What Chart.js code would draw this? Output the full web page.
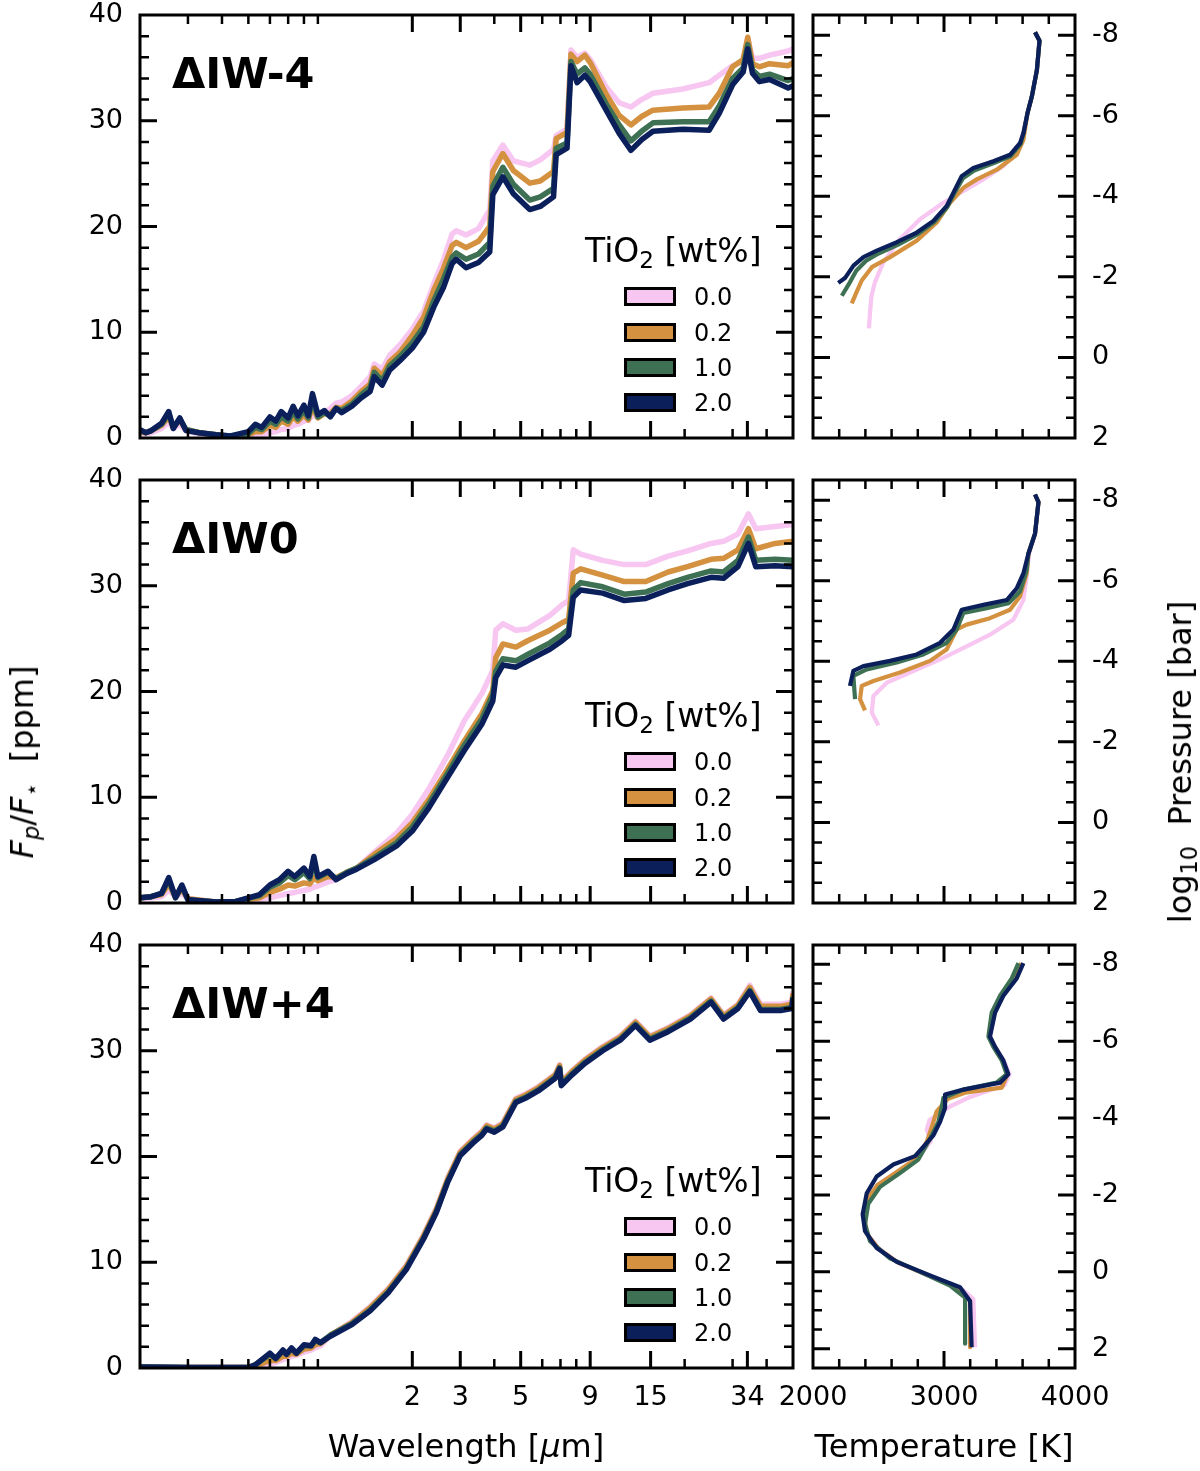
<!DOCTYPE html>
<html>
<head>
<meta charset="utf-8">
<script src="https://cdn.jsdelivr.net/npm/chart.js@4.4.1/dist/chart.umd.min.js"></script>
<style>
  body { margin: 0; background: #fff; }
  #fig { position: relative; width: 1200px; height: 1471px; overflow: hidden; font-family: "DejaVu Sans", sans-serif; color: #000; }
  #fig canvas { position: absolute; }
  .txt { position: absolute; white-space: nowrap; line-height: 1; }
  .panel { font-weight: bold; font-size: 43px; }
  .legtitle { font-size: 33px; }
  .legtitle sub, .axtitle sub { font-size: 70%; vertical-align: -0.25em; line-height: 0; }
  .legbox { position: absolute; width: 46px; height: 13px; border: 3px solid #000; }
  .leglab { font-size: 24px; }
  .axtitle { font-size: 32px; }
  .center { transform: translateX(-50%); }
  .rot { transform: translate(-50%, -50%) rotate(-90deg); }
</style>
</head>
<body>
<div id="fig">
  <canvas id="spec0" width="800" height="503" style="left:0;top:-25px"></canvas>
  <canvas id="spec1" width="800" height="503" style="left:0;top:440px"></canvas>
  <canvas id="spec2" width="800" height="553" style="left:0;top:905px"></canvas>
  <canvas id="tp0" width="460" height="503" style="left:740px;top:-25px"></canvas>
  <canvas id="tp1" width="460" height="503" style="left:740px;top:440px"></canvas>
  <canvas id="tp2" width="460" height="553" style="left:740px;top:905px"></canvas>

  <div class="txt axtitle center" style="left:466px;top:1430px">Wavelength [<i>μ</i>m]</div>
  <div class="txt axtitle center" style="left:944px;top:1430px">Temperature [K]</div>
  <div class="txt axtitle rot" style="left:22px;top:762px"><i>F</i><sub><i>p</i></sub>/<i>F</i><sub>⋆</sub>&nbsp;&nbsp;[ppm]</div>
  <div class="txt axtitle rot" style="left:1180px;top:762px">log<sub>10</sub>&nbsp;&nbsp;Pressure [bar]</div>
</div>
<script>
// ---------------------------------------------------------------- data
var panelNames = ['ΔIW-4', 'ΔIW0', 'ΔIW+4'];
var legendLabels = ['0.0', '0.2', '1.0', '2.0'];   // TiO2 [wt%]
var seriesColors = ['#f7c6f1', '#d4913f', '#3e7154', '#0b1f5b'];

// tick labels / tick marks
var specMajorTicks = [2, 3, 5, 9, 15, 34];
var specMinorTicks = [0.3, 0.4, 0.5, 0.6, 0.7, 0.8, 0.9, 4, 6, 7, 8, 20, 30, 40];
var fluxMajorTicks = [0, 10, 20, 30, 40];
var fluxMinorTicks = [2, 4, 6, 8, 12, 14, 16, 18, 22, 24, 26, 28, 32, 34, 36, 38];
var tempMajorTicks = [2000, 3000, 4000];
var tempMinorTicks = [2200, 2400, 2600, 2800, 3200, 3400, 3600, 3800];
var presMajorTicks = [-8, -6, -4, -2, 0, 2];
var presMinorTicks = [-7.5, -7, -6.5, -5.5, -5, -4.5, -3.5, -3, -2.5, -1.5, -1, -0.5, 0.5, 1, 1.5];

// --- ΔIW-4 emission spectra (wavelength um, Fp/F* ppm)
var wlIW4m = [0.2, 0.21, 0.22, 0.24, 0.255, 0.265, 0.28, 0.295, 0.33, 0.38, 0.43, 0.5, 0.53, 0.56, 0.6, 0.63, 0.66, 0.7, 0.73, 0.76, 0.8, 0.83, 0.86, 0.9, 0.95, 1.0, 1.05, 1.1, 1.2, 1.3, 1.4, 1.45, 1.55, 1.65, 1.8, 2.0, 2.2, 2.4, 2.6, 2.8, 2.9, 3.15, 3.5, 3.85, 3.95, 4.3, 4.7, 5.4, 5.9, 6.6, 6.75, 7.4, 7.65, 8.05, 8.6, 9.0, 10.3, 11.5, 12.7, 13.9, 15.3, 19.7, 24.6, 26.8, 30, 32.8, 34.1, 35.5, 37.6, 41, 48, 50];
var fluxIW4m_00 = [0.5, 0.4, 0.5, 0.9, 1.5, 0.9, 1.3, 0.7, 0.4, 0.2, 0.1, 0.1, 0.2, 0.3, 0.5, 0.6, 0.8, 0.9, 1.2, 1.3, 1.6, 1.7, 2.1, 2.0, 2.4, 2.8, 3.3, 3.4, 4.0, 4.9, 5.8, 7.0, 6.5, 7.8, 8.8, 10.3, 12.0, 14.6, 16.8, 19.3, 19.6, 19.2, 19.8, 21.6, 26.2, 27.7, 26.2, 25.8, 26.3, 27.3, 28.6, 29.2, 36.7, 36.0, 36.4, 35.8, 33.2, 31.7, 31.3, 32.0, 32.6, 33.0, 33.6, 34.3, 35.2, 35.6, 37.8, 35.9, 35.9, 36.2, 36.6, 36.8];
var fluxIW4m_02 = [0.6, 0.5, 0.7, 1.2, 2.0, 1.0, 1.7, 0.8, 0.5, 0.3, 0.15, 0.3, 0.6, 0.6, 1.2, 1.0, 1.6, 1.3, 2.0, 1.6, 2.2, 1.7, 3.0, 1.9, 2.3, 2.3, 2.9, 2.8, 3.5, 4.4, 5.1, 6.6, 5.9, 7.2, 8.1, 9.7, 11.4, 14.0, 16.0, 18.2, 18.5, 18.0, 18.6, 20.0, 25.2, 26.9, 25.3, 24.1, 24.3, 25.2, 28.3, 28.9, 36.3, 35.6, 36.2, 35.5, 32.5, 30.5, 29.6, 30.4, 31.0, 31.2, 31.3, 32.6, 35.1, 35.8, 37.9, 35.4, 35.1, 35.4, 35.2, 35.5];
var fluxIW4m_10 = [0.7, 0.5, 0.7, 1.3, 2.3, 1.0, 1.8, 0.8, 0.5, 0.3, 0.2, 0.4, 1.0, 0.8, 1.6, 1.3, 2.0, 1.6, 2.5, 1.8, 2.6, 1.9, 3.6, 2.0, 2.4, 2.1, 2.8, 2.6, 3.2, 4.1, 4.8, 6.2, 5.4, 6.8, 7.7, 9.0, 10.5, 13.0, 15.0, 17.1, 17.5, 16.9, 17.4, 18.5, 23.8, 25.6, 24.0, 22.5, 22.8, 23.6, 27.4, 27.9, 35.6, 34.4, 35.0, 34.4, 31.6, 29.6, 28.1, 29.0, 29.8, 29.9, 29.9, 31.4, 34.0, 35.0, 37.2, 34.8, 34.2, 34.4, 33.8, 34.0];
var fluxIW4m_20 = [0.8, 0.5, 0.7, 1.4, 2.5, 0.9, 1.9, 0.7, 0.5, 0.3, 0.2, 0.6, 1.3, 1.0, 2.0, 1.6, 2.5, 1.9, 3.0, 2.1, 3.1, 2.1, 4.2, 2.2, 2.6, 2.0, 2.8, 2.4, 3.0, 3.8, 4.4, 5.8, 5.0, 6.4, 7.3, 8.5, 10.0, 12.4, 14.2, 16.5, 16.9, 16.1, 16.6, 17.6, 23.0, 24.7, 23.1, 21.6, 21.9, 22.8, 26.8, 27.4, 35.2, 33.6, 34.3, 33.7, 31.0, 28.8, 27.2, 28.2, 29.0, 29.2, 29.1, 30.7, 33.4, 34.6, 36.8, 34.5, 33.7, 33.9, 33.1, 33.3];

// --- ΔIW0 emission spectra
var wlIW0 = [0.2, 0.22, 0.24, 0.255, 0.27, 0.285, 0.3, 0.38, 0.45, 0.55, 0.6, 0.65, 0.7, 0.74, 0.8, 0.84, 0.87, 0.9, 0.98, 1.05, 1.15, 1.25, 1.45, 1.75, 2.0, 2.3, 2.7, 3.1, 3.6, 3.95, 4.05, 4.3, 4.8, 5.3, 6.4, 7.1, 7.5, 7.8, 8.3, 10, 12, 14.4, 17.4, 20.5, 25, 27.8, 31.4, 34.3, 36.5, 43, 50];
var fluxIW0_00 = [0.4, 0.5, 0.6, 1.2, 0.6, 0.9, 0.4, 0.1, 0.1, 0.3, 0.5, 0.7, 0.9, 1.0, 1.2, 1.3, 1.5, 1.6, 2.0, 2.2, 2.8, 3.3, 4.8, 6.6, 8.4, 10.8, 14.0, 17.2, 19.8, 22.0, 25.8, 26.4, 25.8, 25.9, 27.2, 28.2, 28.6, 33.4, 33.0, 32.4, 32.0, 32.0, 32.8, 33.3, 34.0, 34.2, 34.9, 36.8, 35.4, 35.6, 35.8];
var fluxIW0_02 = [0.5, 0.6, 0.8, 1.8, 0.6, 1.3, 0.4, 0.1, 0.15, 0.5, 1.0, 1.3, 1.7, 1.6, 1.9, 1.8, 2.4, 2.1, 2.5, 2.4, 2.9, 3.3, 4.6, 6.1, 7.6, 9.8, 12.7, 15.3, 17.9, 20.1, 23.2, 24.5, 24.2, 24.8, 25.8, 26.5, 26.8, 31.2, 31.6, 31.0, 30.4, 30.4, 31.3, 31.8, 32.5, 32.6, 33.4, 35.4, 33.5, 34.0, 34.2];
var fluxIW0_10 = [0.5, 0.6, 0.9, 2.2, 0.5, 1.6, 0.3, 0.1, 0.15, 0.7, 1.5, 1.9, 2.6, 2.2, 2.9, 2.3, 3.8, 2.4, 2.9, 2.3, 2.9, 3.3, 4.3, 5.7, 7.2, 9.4, 12.3, 14.9, 17.4, 19.7, 21.9, 23.1, 22.9, 23.5, 24.6, 25.4, 25.9, 29.6, 30.3, 29.9, 29.2, 29.4, 30.2, 30.8, 31.4, 31.3, 32.4, 34.6, 32.4, 32.5, 32.4];
var fluxIW0_20 = [0.5, 0.6, 0.9, 2.4, 0.5, 1.7, 0.3, 0.1, 0.15, 0.8, 1.7, 2.2, 3.0, 2.5, 3.3, 2.5, 4.4, 2.5, 3.0, 2.2, 2.8, 3.2, 4.1, 5.4, 6.8, 9.0, 11.9, 14.4, 16.9, 19.1, 21.3, 22.5, 22.3, 22.9, 24.0, 24.8, 25.3, 28.9, 29.6, 29.3, 28.6, 28.8, 29.6, 30.2, 30.8, 30.7, 31.8, 34.0, 31.8, 31.9, 31.8];

// --- ΔIW+4 emission spectra
var wlIW4p = [0.2, 0.3, 0.4, 0.5, 0.53, 0.6, 0.63, 0.67, 0.69, 0.72, 0.75, 0.8, 0.85, 0.88, 0.92, 1.0, 1.2, 1.4, 1.63, 1.9, 2.2, 2.45, 2.7, 3.0, 3.35, 3.6, 3.75, 4.0, 4.3, 4.8, 5.2, 5.8, 6.7, 6.95, 7.05, 7.7, 8.6, 10, 11.6, 13.2, 14.9, 17.4, 21, 25, 27.8, 31.4, 34.7, 38, 45, 49.5, 50];
var fluxIW4p_00 = [0.1, 0.05, 0.05, 0.05, 0.1, 0.4, 0.5, 0.8, 0.9, 1.1, 1.2, 1.5, 1.7, 1.9, 2.1, 3.1, 4.4, 5.8, 7.5, 9.7, 12.6, 15.1, 18.0, 20.5, 21.7, 22.4, 23.0, 22.7, 23.2, 25.5, 25.9, 26.6, 27.8, 28.7, 27.1, 28.1, 29.2, 30.4, 31.4, 32.8, 31.4, 32.2, 33.4, 35.0, 33.4, 34.4, 36.2, 34.4, 34.4, 34.6, 35.6];
var fluxIW4p_02 = [0.1, 0.05, 0.05, 0.05, 0.2, 0.7, 0.7, 1.1, 1.1, 1.4, 1.3, 1.8, 1.9, 2.2, 2.3, 3.1, 4.3, 5.7, 7.4, 9.6, 12.5, 15.0, 17.9, 20.4, 21.6, 22.3, 22.9, 22.6, 23.1, 25.4, 25.8, 26.5, 27.7, 28.6, 27.0, 28.0, 29.1, 30.3, 31.3, 32.7, 31.3, 32.1, 33.3, 34.9, 33.3, 34.3, 36.0, 34.2, 34.2, 34.4, 35.4];
var fluxIW4p_10 = [0.1, 0.05, 0.05, 0.05, 0.3, 1.3, 0.9, 1.6, 1.3, 1.8, 1.4, 2.1, 2.1, 2.6, 2.4, 3.1, 4.2, 5.5, 7.2, 9.4, 12.3, 14.8, 17.7, 20.2, 21.4, 22.1, 22.7, 22.4, 22.9, 25.2, 25.6, 26.3, 27.5, 28.4, 26.8, 27.8, 28.9, 30.1, 31.1, 32.5, 31.1, 31.9, 33.1, 34.7, 33.1, 34.1, 35.7, 33.9, 33.9, 34.1, 35.1];
var fluxIW4p_20 = [0.1, 0.05, 0.05, 0.05, 0.3, 1.4, 0.9, 1.7, 1.3, 1.9, 1.4, 2.2, 2.1, 2.7, 2.4, 3.0, 4.1, 5.4, 7.1, 9.3, 12.2, 14.7, 17.6, 20.1, 21.3, 22.0, 22.6, 22.3, 22.8, 25.1, 25.5, 26.2, 27.4, 28.3, 26.7, 27.7, 28.8, 30.0, 31.0, 32.4, 31.0, 31.8, 33.0, 34.6, 33.0, 34.0, 35.6, 33.8, 33.8, 34.0, 35.0];

// --- temperature profiles (T in K, log10 P in bar)
var tempIW4m_00 = [3695, 3729, 3709, 3670, 3637, 3580, 3454, 3301, 3148, 2995, 2817, 2664, 2537, 2473, 2445, 2435, 2427];
var presIW4m_00 = [-8.07, -7.86, -7.13, -6.47, -6.06, -5.24, -4.75, -4.42, -4.13, -3.84, -3.43, -2.94, -2.36, -1.87, -1.50, -1.10, -0.72];
var tempIW4m_02 = [3695, 3729, 3709, 3670, 3637, 3606, 3555, 3403, 3250, 3148, 3046, 2944, 2792, 2588, 2449, 2372, 2330, 2296];
var presIW4m_02 = [-8.07, -7.86, -7.13, -6.47, -6.06, -5.40, -5.03, -4.66, -4.42, -4.21, -3.84, -3.35, -2.90, -2.49, -2.24, -1.91, -1.60, -1.34];
var tempIW4m_10 = [3695, 3729, 3709, 3670, 3637, 3607, 3585, 3510, 3385, 3230, 3145, 3075, 3025, 2925, 2800, 2650, 2500, 2405, 2330, 2270, 2220];
var presIW4m_10 = [-8.07, -7.86, -7.13, -6.47, -6.06, -5.57, -5.30, -5.00, -4.83, -4.64, -4.45, -4.05, -3.73, -3.36, -3.06, -2.80, -2.58, -2.40, -2.15, -1.80, -1.53];
var tempIW4m_20 = [3695, 3729, 3709, 3670, 3637, 3607, 3580, 3504, 3377, 3224, 3135, 3072, 3021, 2919, 2792, 2640, 2487, 2385, 2309, 2244, 2193];
var presIW4m_20 = [-8.07, -7.86, -7.13, -6.47, -6.06, -5.57, -5.32, -5.03, -4.87, -4.70, -4.50, -4.09, -3.76, -3.39, -3.10, -2.86, -2.65, -2.49, -2.28, -1.97, -1.85];

var tempIW0_00 = [3695, 3721, 3695, 3650, 3631, 3606, 3529, 3351, 3173, 2970, 2740, 2563, 2461, 2449, 2499];
var presIW0_00 = [-8.14, -7.95, -7.17, -6.67, -6.10, -5.52, -5.03, -4.66, -4.37, -4.05, -3.72, -3.47, -3.14, -2.73, -2.41];
var tempIW0_02 = [3695, 3721, 3695, 3644, 3631, 3580, 3504, 3351, 3173, 3097, 3020, 2893, 2664, 2461, 2372, 2359, 2397];
var presIW0_02 = [-8.14, -7.95, -7.17, -6.67, -6.18, -5.61, -5.28, -5.07, -4.91, -4.79, -4.29, -4.01, -3.72, -3.51, -3.39, -3.06, -2.78];
var tempIW0_10 = [3695, 3721, 3695, 3644, 3631, 3580, 3492, 3326, 3148, 3097, 3020, 2842, 2639, 2410, 2308, 2321];
var presIW0_10 = [-8.14, -7.95, -7.17, -6.67, -6.26, -5.73, -5.44, -5.32, -5.20, -4.79, -4.46, -4.17, -3.97, -3.80, -3.64, -3.06];
var tempIW0_20 = [3695, 3721, 3695, 3644, 3606, 3555, 3479, 3301, 3135, 3072, 2970, 2792, 2588, 2385, 2308, 2282];
var presIW0_20 = [-8.14, -7.95, -7.17, -6.67, -6.18, -5.81, -5.52, -5.40, -5.28, -4.79, -4.46, -4.17, -4.01, -3.88, -3.76, -3.39];

var tempIW4p_00 = [3600, 3550, 3450, 3385, 3350, 3390, 3455, 3500, 3460, 3200, 3046, 2890, 2868, 2900, 2810, 2640, 2490, 2410, 2395, 2420, 2510, 2660, 2900, 3130, 3224, 3237];
var presIW4p_00 = [-8.03, -7.63, -7.18, -6.74, -6.12, -5.85, -5.50, -5.14, -4.85, -4.55, -4.30, -3.95, -3.70, -3.40, -3.00, -2.60, -2.25, -1.85, -1.40, -0.95, -0.58, -0.22, 0.12, 0.43, 0.71, 1.96];
var tempIW4p_02 = [3590, 3540, 3440, 3378, 3345, 3384, 3447, 3485, 3441, 3160, 3030, 2944, 2900, 2870, 2810, 2640, 2490, 2410, 2390, 2410, 2500, 2650, 2890, 3110, 3199, 3199];
var presIW4p_02 = [-8.03, -7.63, -7.18, -6.74, -6.12, -5.85, -5.50, -5.14, -4.79, -4.66, -4.50, -4.17, -3.70, -3.40, -3.00, -2.60, -2.25, -1.85, -1.45, -1.00, -0.60, -0.24, 0.10, 0.42, 0.76, 1.96];
var tempIW4p_10 = [3568, 3517, 3428, 3364, 3339, 3377, 3441, 3479, 3402, 3148, 2995, 2982, 2957, 2893, 2804, 2664, 2512, 2422, 2397, 2435, 2588, 2817, 3046, 3161, 3161];
var presIW4p_10 = [-8.03, -7.63, -7.18, -6.74, -6.12, -5.85, -5.50, -5.14, -4.92, -4.74, -4.52, -4.26, -3.90, -3.46, -2.92, -2.57, -2.21, -1.77, -1.24, -0.80, -0.35, 0.00, 0.36, 0.67, 1.87];
var tempIW4p_20 = [3606, 3555, 3453, 3390, 3351, 3390, 3453, 3491, 3428, 3148, 3008, 3008, 2970, 2919, 2779, 2613, 2486, 2410, 2379, 2397, 2486, 2639, 2893, 3122, 3199, 3211];
var presIW4p_20 = [-8.03, -7.63, -7.18, -6.74, -6.12, -5.85, -5.50, -5.14, -4.92, -4.74, -4.61, -4.26, -3.90, -3.55, -3.01, -2.79, -2.48, -2.04, -1.50, -1.06, -0.62, -0.26, 0.09, 0.40, 0.76, 1.96];

// ---------------------------------------------------------------- helpers
Chart.defaults.font.family = '"DejaVu Sans", sans-serif';
Chart.defaults.color = '#000';

// matplotlib-like frame with inward ticks on all four sides
var frameTicks = {
  id: 'frameTicks',
  afterDatasetsDraw: function (chart, args, o) {
    var ctx = chart.ctx, a = chart.chartArea;
    var sx = chart.scales.x, sy = chart.scales.y;
    ctx.save();
    ctx.strokeStyle = '#000';
    function xt(vals, len, w) {
      ctx.lineWidth = w;
      vals.forEach(function (v) {
        var p = sx.getPixelForValue(v);
        if (p <= a.left + 1 || p >= a.right - 1) return;
        ctx.beginPath();
        ctx.moveTo(p, a.bottom); ctx.lineTo(p, a.bottom - len);
        ctx.moveTo(p, a.top); ctx.lineTo(p, a.top + len);
        ctx.stroke();
      });
    }
    function yt(vals, len, w) {
      ctx.lineWidth = w;
      vals.forEach(function (v) {
        var p = sy.getPixelForValue(v);
        if (p <= a.top + 1 || p >= a.bottom - 1) return;
        ctx.beginPath();
        ctx.moveTo(a.left, p); ctx.lineTo(a.left + len, p);
        ctx.moveTo(a.right, p); ctx.lineTo(a.right - len, p);
        ctx.stroke();
      });
    }
    xt(o.xMinor, 9, 2.5); xt(o.xMajor, 17, 3);
    yt(o.yMinor, 9, 2.5); yt(o.yMajor, 17, 3);
    ctx.lineWidth = 3;
    ctx.strokeRect(a.left, a.top, a.right - a.left, a.bottom - a.top);
    ctx.restore();
  }
};

function makeSets(xs, ys, width) {
  // xs / ys: one array per TiO2 series; pink drawn first, navy on top
  return ys.map(function (yv, i) {
    var xv = xs[i];
    return {
      label: legendLabels[i],
      data: xv.map(function (x, k) { return { x: x, y: yv[k] }; }),
      borderColor: seriesColors[i],
      borderWidth: width,
      borderJoinStyle: 'round',
      pointRadius: 0,
      tension: 0,
      order: ys.length - i
    };
  });
}

var tickFont = { size: 27 };

function specChart(id, xs, ys, showX) {
  return new Chart(document.getElementById(id), {
    type: 'line',
    data: { datasets: makeSets(xs, ys, 5.5) },
    plugins: [frameTicks],
    options: {
      responsive: false, animation: false, devicePixelRatio: 1,
      layout: { padding: { top: 40, right: 7, left: 0, bottom: 0 } },
      plugins: {
        legend: { display: false }, tooltip: { enabled: false },
        frameTicks: { xMajor: specMajorTicks, xMinor: specMinorTicks, yMajor: fluxMajorTicks, yMinor: fluxMinorTicks }
      },
      scales: {
        x: {
          type: 'logarithmic', min: 0.2, max: 50,
          grid: { display: false, drawTicks: false }, border: { display: false },
          afterBuildTicks: function (s) { s.ticks = specMajorTicks.map(function (v) { return { value: v }; }); },
          afterFit: function (s) { s.height = showX ? 90 : 40; },
          ticks: { display: showX, autoSkip: false, maxRotation: 0, padding: 14, font: tickFont,
                   callback: function (v) { return String(v); } }
        },
        y: {
          type: 'linear', min: 0, max: 40,
          grid: { display: false, drawTicks: false }, border: { display: false },
          afterBuildTicks: function (s) { s.ticks = fluxMajorTicks.map(function (v) { return { value: v }; }); },
          afterFit: function (s) { s.width = 140; },
          ticks: { padding: 17, font: tickFont, callback: function (v) { return String(v); } }
        }
      }
    }
  });
}

function tpChart(id, xs, ys, showX, pMax) {
  return new Chart(document.getElementById(id), {
    type: 'line',
    data: { datasets: makeSets(xs, ys, 4.2) },
    plugins: [frameTicks],
    options: {
      responsive: false, animation: false, devicePixelRatio: 1,
      layout: { padding: { top: 40, right: 0, left: 73, bottom: 0 } },
      plugins: {
        legend: { display: false }, tooltip: { enabled: false },
        frameTicks: { xMajor: tempMajorTicks, xMinor: tempMinorTicks, yMajor: presMajorTicks, yMinor: presMinorTicks }
      },
      scales: {
        x: {
          type: 'linear', min: 2000, max: 4000,
          grid: { display: false, drawTicks: false }, border: { display: false },
          afterBuildTicks: function (s) { s.ticks = tempMajorTicks.map(function (v) { return { value: v }; }); },
          afterFit: function (s) { s.height = showX ? 90 : 40; },
          ticks: { display: showX, autoSkip: false, maxRotation: 0, padding: 14, font: tickFont,
                   callback: function (v) { return String(v); } }
        },
        y: {
          type: 'linear', position: 'right', reverse: true, min: -8.5, max: pMax,
          grid: { display: false, drawTicks: false }, border: { display: false },
          afterBuildTicks: function (s) { s.ticks = presMajorTicks.map(function (v) { return { value: v }; }); },
          afterFit: function (s) { s.width = 125; },
          ticks: { padding: 17, font: tickFont, callback: function (v) { return String(v); } }
        }
      }
    }
  });
}

// ---------------------------------------------------------------- charts
specChart('spec0', [wlIW4m, wlIW4m, wlIW4m, wlIW4m], [fluxIW4m_00, fluxIW4m_02, fluxIW4m_10, fluxIW4m_20], false);
specChart('spec1', [wlIW0, wlIW0, wlIW0, wlIW0], [fluxIW0_00, fluxIW0_02, fluxIW0_10, fluxIW0_20], false);
specChart('spec2', [wlIW4p, wlIW4p, wlIW4p, wlIW4p], [fluxIW4p_00, fluxIW4p_02, fluxIW4p_10, fluxIW4p_20], true);

tpChart('tp0', [tempIW4m_00, tempIW4m_02, tempIW4m_10, tempIW4m_20], [presIW4m_00, presIW4m_02, presIW4m_10, presIW4m_20], false, 2);
tpChart('tp1', [tempIW0_00, tempIW0_02, tempIW0_10, tempIW0_20], [presIW0_00, presIW0_02, presIW0_10, presIW0_20], false, 2);
tpChart('tp2', [tempIW4p_00, tempIW4p_02, tempIW4p_10, tempIW4p_20], [presIW4p_00, presIW4p_02, presIW4p_10, presIW4p_20], true, 2.5);

// ---------------------------------------------------------------- panel labels + legends
var fig = document.getElementById('fig');
var rowShift = [0, 465, 930];

function addDiv(cls, html, left, top) {
  var d = document.createElement('div');
  d.className = cls;
  d.innerHTML = html;
  d.style.left = left + 'px';
  d.style.top = top + 'px';
  fig.appendChild(d);
  return d;
}

for (var r = 0; r < 3; r++) {
  var dy = rowShift[r];
  addDiv('txt panel', panelNames[r], 172, 52 + dy);
  addDiv('txt legtitle', 'TiO<sub>2</sub> [wt%]', 585, 234 + dy);
  var boxTops = [287, 323, 358, 393];
  for (var i = 0; i < legendLabels.length; i++) {
    var b = addDiv('legbox', '', 624, boxTops[i] + dy);
    b.style.background = seriesColors[i];
    addDiv('txt leglab', legendLabels[i], 694, boxTops[i] - 2 + dy);
  }
}
</script>
</body>
</html>
